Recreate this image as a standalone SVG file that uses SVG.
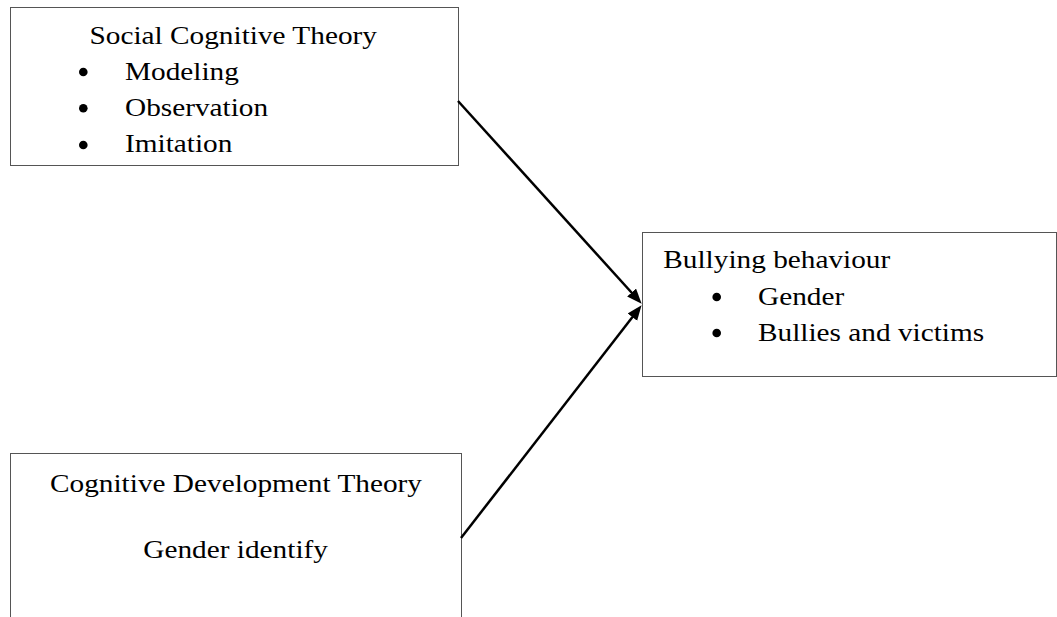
<svg xmlns="http://www.w3.org/2000/svg" width="1057" height="617" viewBox="0 0 1057 617">
  <style>
    .box { fill: #ffffff; stroke: #555555; stroke-width: 1; }
    .t { font-family: "Liberation Serif", "Times New Roman", serif; font-size: 26px; fill: #000000; }
    .bul { fill: #000000; }
    .conn { stroke: #000000; stroke-width: 2.5; fill: none; marker-end: url(#arrow); }
  </style>
  <defs>
    <marker id="arrow" markerUnits="userSpaceOnUse" markerWidth="16" markerHeight="13" refX="10" refY="6" orient="auto">
      <path d="M0,0 L15,6 L0,12 z" fill="#000000"/>
    </marker>
  </defs>
  <rect x="0" y="0" width="1057" height="617" fill="#ffffff"/>

  <g id="node-social">
    <rect class="box" x="10.5" y="7.5" width="448" height="158"/>
    <text class="t" transform="translate(89.5 43.5) scale(1.127 1)">Social Cognitive Theory</text>
    <circle class="bul" cx="83.3" cy="72" r="4.3"/>
    <text class="t" transform="translate(125 80) scale(1.127 1)">Modeling</text>
    <circle class="bul" cx="83.3" cy="108.3" r="4.3"/>
    <text class="t" transform="translate(125 116) scale(1.127 1)">Observation</text>
    <circle class="bul" cx="83.3" cy="145" r="4.3"/>
    <text class="t" transform="translate(125 152) scale(1.127 1)">Imitation</text>
  </g>

  <g id="node-bullying">
    <rect class="box" x="642.5" y="232.5" width="414" height="144"/>
    <text class="t" transform="translate(663.3 267.7) scale(1.127 1)">Bullying behaviour</text>
    <circle class="bul" cx="716.7" cy="297" r="4.3"/>
    <text class="t" transform="translate(758 305) scale(1.127 1)">Gender</text>
    <circle class="bul" cx="716.7" cy="333" r="4.3"/>
    <text class="t" transform="translate(758 341) scale(1.127 1)">Bullies and victims</text>
  </g>

  <g id="node-cognitive">
    <rect class="box" x="10.5" y="453.5" width="451" height="200"/>
    <text class="t" transform="translate(50 491.7) scale(1.127 1)">Cognitive Development Theory</text>
    <text class="t" transform="translate(143.3 558) scale(1.127 1)">Gender identify</text>
  </g>

  <g id="connectors">
    <line class="conn" x1="458" y1="101" x2="638.3" y2="300"/>
    <line class="conn" x1="461" y1="538" x2="638.5" y2="309.2"/>
  </g>
</svg>
